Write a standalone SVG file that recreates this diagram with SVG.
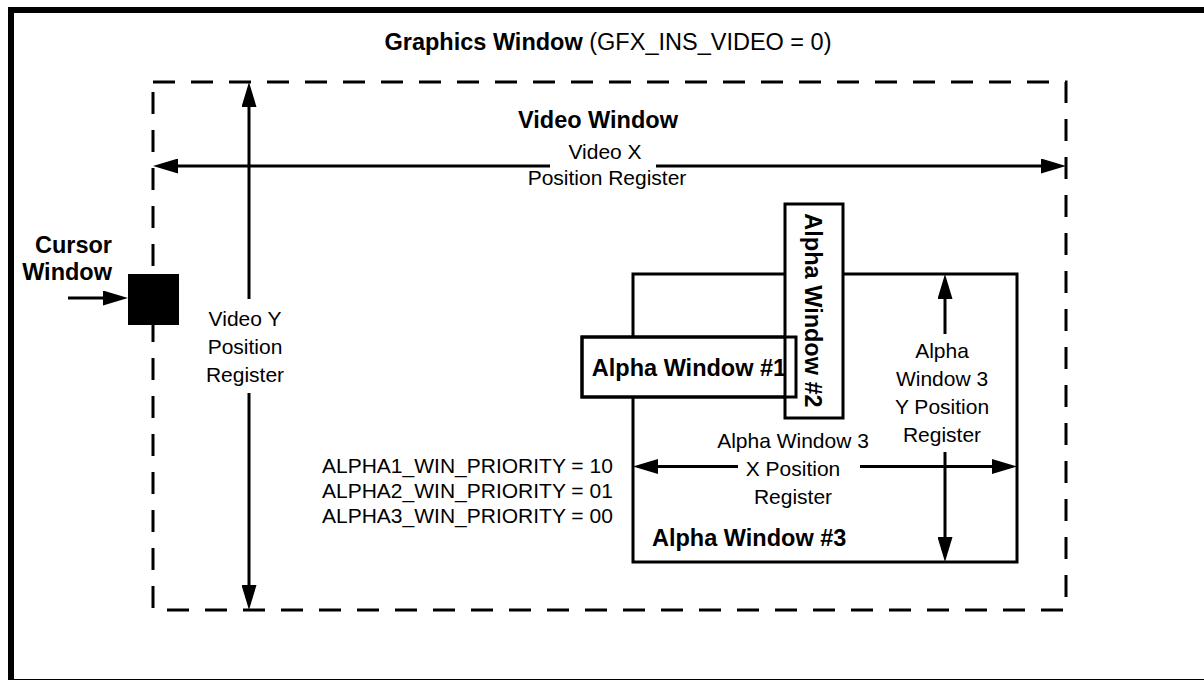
<svg xmlns="http://www.w3.org/2000/svg" width="1204" height="680" viewBox="0 0 1204 680">
<style>
text { font-family: "Liberation Sans", Arial, Helvetica, sans-serif; fill: #000; }
.b { font-weight: bold; font-size: 23.5px; }
.r { font-size: 21px; }
.t { font-size: 23.5px; }
.box { fill: #fff; stroke: #000; stroke-width: 3; }
.conn { fill: none; stroke: #000; stroke-width: 3; }
</style>
<defs>
<marker id="ah" markerUnits="userSpaceOnUse" markerWidth="25" markerHeight="15" viewBox="0 0 25 15" refX="15" refY="7.5" orient="auto-start-reverse">
<path d="M0,0 L25,7.5 L0,15 z" fill="#000"/>
</marker>
</defs>
<rect width="1204" height="680" fill="#fff"/>
<g id="graphics-window">
<rect x="11" y="10" width="1200" height="672" fill="none" stroke="#000" stroke-width="6"/>
<text class="t" x="608" y="50" text-anchor="middle"><tspan font-weight="bold">Graphics Window</tspan> (GFX_INS_VIDEO = 0)</text>
</g>
<g id="video-window">
<rect x="153" y="82" width="913" height="528" fill="none" stroke="#000" stroke-width="3" stroke-dasharray="22 16"/>
<text class="b" x="598" y="128" text-anchor="middle">Video Window</text>
</g>
<g id="alpha-window-3">
<rect class="box" x="633" y="274" width="384" height="288"/>
<text class="b" x="652" y="546">Alpha Window #3</text>
</g>
<g id="alpha-window-1">
<rect class="box" x="582" y="337" width="214" height="60"/>
</g>
<g id="alpha-window-2">
<rect class="box" x="785" y="204" width="58" height="214"/>
<text class="b" transform="translate(805,310.5) rotate(90)" text-anchor="middle">Alpha Window #2</text>
</g>
<g id="alpha-window-1-top">
<rect x="582" y="337" width="214" height="60" fill="none" stroke="#000" stroke-width="3"/>
<text class="b" x="689" y="376" text-anchor="middle">Alpha Window #1</text>
</g>
<g id="cursor-window">
<rect x="128" y="274" width="51" height="51" fill="#000"/>
<text class="b" x="112" y="253" text-anchor="end">Cursor</text>
<text class="b" x="112" y="280" text-anchor="end">Window</text>
</g>
<g id="connectors">
<path class="conn" d="M163,166 H550" marker-start="url(#ah)"/>
<path class="conn" d="M656,166 H1056" marker-end="url(#ah)"/>
<path class="conn" d="M249,92 V299" marker-start="url(#ah)"/>
<path class="conn" d="M249,393 V600" marker-end="url(#ah)"/>
<path class="conn" d="M68,298 H118" marker-end="url(#ah)"/>
<path class="conn" d="M945,284 V334" marker-start="url(#ah)"/>
<path class="conn" d="M945,452 V552" marker-end="url(#ah)"/>
<path class="conn" d="M643,466.5 H738" marker-start="url(#ah)"/>
<path class="conn" d="M860,466.5 H1007" marker-end="url(#ah)"/>
</g>
<g id="labels">
<text class="r" x="605" y="159" text-anchor="middle">Video X</text>
<text class="r" x="607" y="185" text-anchor="middle">Position Register</text>
<text class="r" x="245" y="326" text-anchor="middle">Video Y</text>
<text class="r" x="245" y="354" text-anchor="middle">Position</text>
<text class="r" x="245" y="382" text-anchor="middle">Register</text>
<text class="r" x="942" y="358" text-anchor="middle">Alpha</text>
<text class="r" x="942" y="386" text-anchor="middle">Window 3</text>
<text class="r" x="942" y="414" text-anchor="middle">Y Position</text>
<text class="r" x="942" y="442" text-anchor="middle">Register</text>
<text class="r" x="793" y="448" text-anchor="middle">Alpha Window 3</text>
<text class="r" x="793" y="476" text-anchor="middle">X Position</text>
<text class="r" x="793" y="504" text-anchor="middle">Register</text>
<text class="r" x="322" y="473">ALPHA1_WIN_PRIORITY = 10</text>
<text class="r" x="322" y="498">ALPHA2_WIN_PRIORITY = 01</text>
<text class="r" x="322" y="523">ALPHA3_WIN_PRIORITY = 00</text>
</g>
</svg>
